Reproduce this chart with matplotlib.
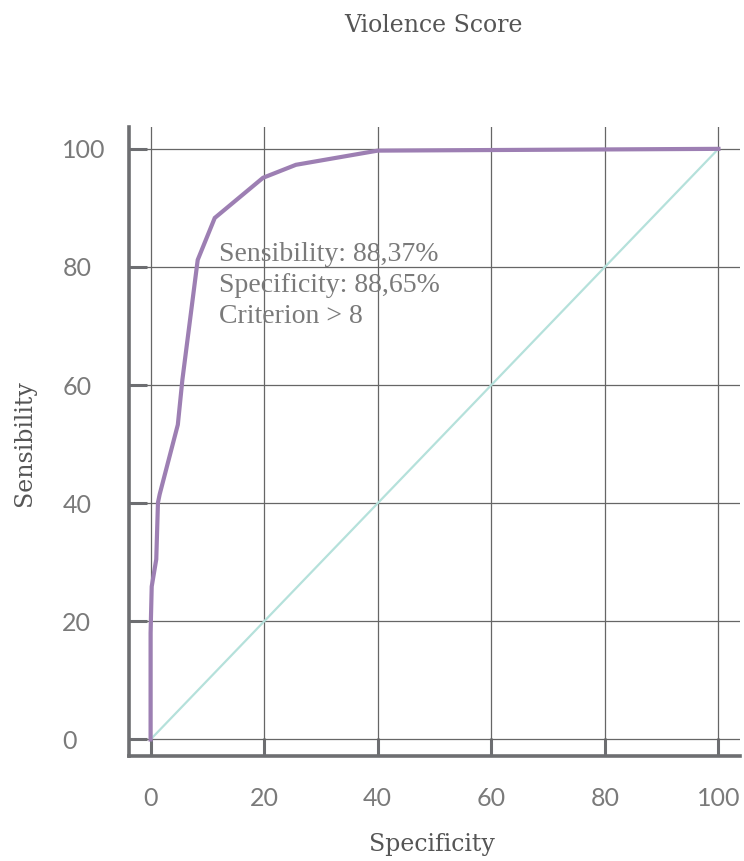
import matplotlib.pyplot as plt

# ROC curve (specificity axis, sensibility)
roc_x = [0, 0, 0.2, 1.0, 1.3, 1.6, 4.8, 5.6, 8.3, 11.3, 19.8, 25.6, 40.0, 100]
roc_y = [0, 18, 25.9, 30.5, 40.1, 41.5, 53.3, 60.9, 81.2, 88.3, 95.1, 97.3, 99.7, 100]
diag_x = [0, 100]
diag_y = [0, 100]
ticks = [0, 20, 40, 60, 80, 100]
note_lines = ['Sensibility: 88,37%', 'Specificity: 88,65%', 'Criterion > 8']

gray = '#6d6e71'
purple = '#9d7fb3'
teal = '#b5e1db'

fig = plt.figure(figsize=(7.44, 8.61), dpi=100)
ax = fig.add_axes([129 / 744, 1 - 756 / 861, 611 / 744, 629 / 861])

ax.plot(diag_x, diag_y, color=teal, lw=1.6, zorder=2)
ax.plot(roc_x, roc_y, color=purple, lw=3, solid_joinstyle='miter', zorder=3)

ax.set_xlim(-3.8, 103.8)
ax.set_ylim(-2.8, 103.7)
ax.set_xticks(ticks)
ax.set_yticks(ticks)
ax.grid(True, color='#666666', lw=0.9, zorder=1)
ax.set_axisbelow(True)

for side in ['top', 'right']:
    ax.spines[side].set_visible(False)
for side in ['left', 'bottom']:
    ax.spines[side].set_color(gray)
    ax.spines[side].set_linewidth(2.6)

ax.tick_params(axis='both', direction='in', length=13, width=2.2, color=gray,
               labelcolor='#7a7a7a', labelsize=18)
ax.tick_params(axis='x', pad=22)
ax.tick_params(axis='y', pad=48)
for lab in ax.get_yticklabels():
    lab.set_horizontalalignment('left')
for lab in ax.get_xticklabels() + ax.get_yticklabels():
    lab.set_fontfamily(['Lato', 'DejaVu Sans'])

# annotation of the cut-off point
ax.text(12.0, 84.2, '\n'.join(note_lines), color='#7a7a7a', fontsize=20,
        family=['Liberation Serif', 'DejaVu Serif'], va='top', ha='left',
        linespacing=1.31, zorder=4)

fig.text(433 / 744, 1 - 25 / 861, 'Violence Score', color='#555555', fontsize=17,
         family='DejaVu Serif', ha='center', va='center')
fig.text(432 / 744, 1 - 845 / 861, 'Specificity', color='#555555', fontsize=17,
         family='DejaVu Serif', ha='center', va='center')
fig.text(25 / 744, 1 - 443 / 861, 'Sensibility', color='#555555', fontsize=17,
         family='DejaVu Serif', ha='center', va='center', rotation=90)

fig.savefig('out.png', dpi=100)
